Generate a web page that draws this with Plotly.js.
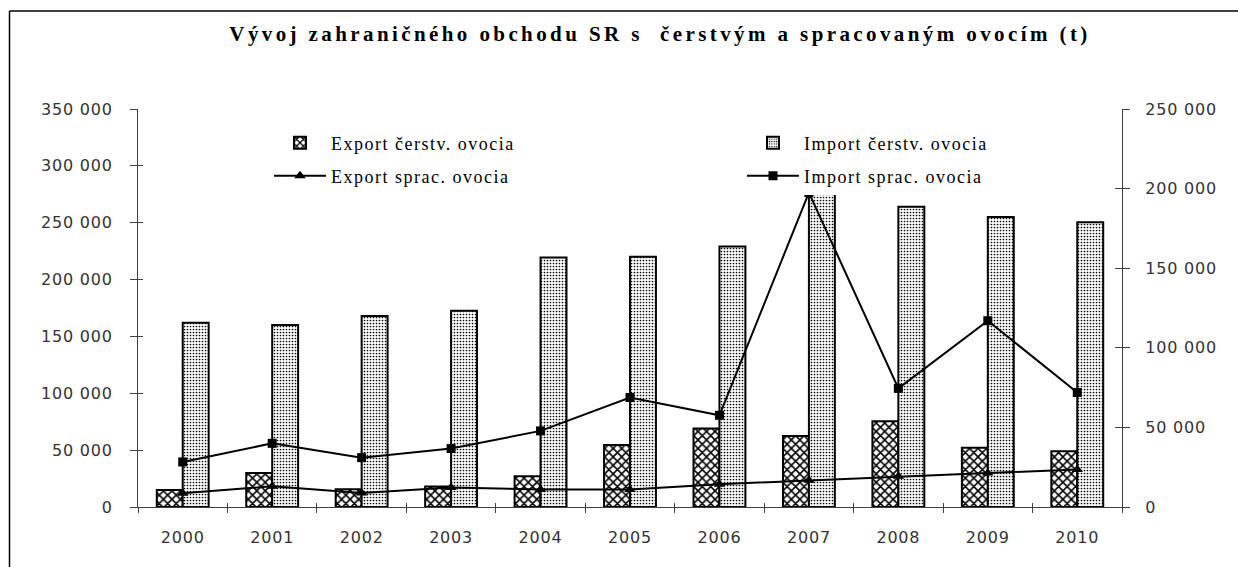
<!DOCTYPE html>
<html><head><meta charset="utf-8">
<script src="https://cdn.plot.ly/plotly-3.0.1.min.js"></script>
<style>
html,body{margin:0;padding:0;background:#fff;}
#chart{width:1238px;height:567px;}
.xtick text,.ytick text,.y2tick text{letter-spacing:0.8px;}
.gtitle{letter-spacing:3.4px;}
</style></head><body><div id="chart"></div>
<script>
const years = ['2000','2001','2002','2003','2004','2005','2006','2007','2008','2009','2010'];
const exportFresh = [15000, 30000, 15500, 18000, 27000, 54500, 69000, 62500, 75500, 52000, 49000];
const importFresh = [162000, 160000, 168000, 172500, 219500, 220000, 229000, 285000, 264000, 255000, 250500];
const exportProc = [8600, 13000, 8800, 12200, 11000, 11000, 14300, 16800, 19300, 21400, 23500];
const importProc = [28300, 40000, 31000, 36700, 47800, 68800, 57600, 197500, 74500, 117000, 71900];
const names = ['Export čerstv. ovocia', 'Import čerstv. ovocia', 'Export sprac. ovocia', 'Import sprac. ovocia'];
const titleText = 'Vývoj zahraničného obchodu SR s  čerstvým a spracovaným ovocím (t)';

const W = 1238, H = 567, L = 138, R = 116, T = 109, B = 60;
const pw = W - L - R, ph = H - T - B;
const px2x = p => (p - L) / pw;
const px2y = p => (H - B - p) / ph;

const axisColor = '#404040';
const tickFont = () => ({family: 'DejaVu Sans', size: 16, color: '#333333'});
const legFont = () => ({family: 'Liberation Serif', size: 18, color: '#000000'});

const traces = [
  {type: 'bar', x: years, y: exportFresh, name: names[0], legend: 'legend',
   marker: {color: '#ffffff', line: {color: '#000', width: 2},
            pattern: {shape: 'x', fgcolor: '#000', bgcolor: '#fff', size: 6, solidity: 0.45}}},
  {type: 'bar', x: years, y: importFresh, name: names[1], legend: 'legend2',
   marker: {color: '#ffffff', line: {color: '#000', width: 2},
            pattern: {shape: '.', fgcolor: '#000', bgcolor: '#fff', size: 3, solidity: 0.25}}},
  {type: 'scatter', mode: 'lines+markers', x: years, y: exportProc, yaxis: 'y2', name: names[2], legend: 'legend3',
   line: {color: '#000', width: 2}, marker: {symbol: 'triangle-up', size: 10, color: '#000'}},
  {type: 'scatter', mode: 'lines+markers', x: years, y: importProc, yaxis: 'y2', name: names[3], legend: 'legend4',
   line: {color: '#000', width: 2}, marker: {symbol: 'square', size: 9, color: '#000'}},
  // empty helper traces so the inward tick axes get drawn
  {type: 'scatter', x: [null], y: [null], xaxis: 'x2', yaxis: 'y3', showlegend: false, hoverinfo: 'skip'},
  {type: 'scatter', x: [null], y: [null], xaxis: 'x2', yaxis: 'y4', showlegend: false, hoverinfo: 'skip'}
];

function leg(xp, yp, bg) {
  return {x: px2x(xp), xanchor: 'left', y: px2y(yp), yanchor: 'middle', orientation: 'h',
          bgcolor: bg, borderwidth: 0, font: legFont(), itemwidth: 52, entrywidth: 250, entrywidthmode: 'pixels',
          itemclick: false};
}

const layout = {
  width: W, height: H,
  font: {family: 'Liberation Serif', size: 18, color: '#000000'},
  margin: {l: L, r: R, t: T, b: B, autoexpand: false},
  paper_bgcolor: '#fff', plot_bgcolor: 'rgba(0,0,0,0)',
  separators: ', ',
  barmode: 'group', bargap: 0.42, bargroupgap: 0,
  title: {text: '<b>' + titleText + '</b>', x: px2x(660), xref: 'paper', xanchor: 'center',
          y: 1 - 34 / H, yref: 'container', yanchor: 'middle',
          font: {family: 'Liberation Serif', size: 21, color: '#000'}},
  xaxis: {type: 'category', range: [-0.5, 10.5], tickson: 'boundaries', ticks: 'outside', ticklen: 5, tickcolor: axisColor,
          showline: true, linecolor: axisColor, linewidth: 1, showgrid: false, zeroline: false,
          tickfont: tickFont(), ticklabelstandoff: 16},
  xaxis2: {overlaying: 'x', anchor: 'y', type: 'linear', range: [-0.5, 10.5], tickmode: 'linear', tick0: -0.5, dtick: 1,
           ticks: 'inside', ticklen: 4, tickcolor: axisColor, showticklabels: false, showline: false,
           showgrid: false, zeroline: false},
  yaxis: {range: [0, 350000], dtick: 50000, tickformat: ',d', ticks: 'outside', ticklen: 7, tickcolor: axisColor,
          showline: true, linecolor: axisColor, linewidth: 1, showgrid: false, zeroline: false,
          tickfont: tickFont(), ticklabelstandoff: 14},
  yaxis2: {overlaying: 'y', side: 'right', range: [0, 250000], dtick: 50000, tickformat: ',d', ticks: 'outside', ticklen: 7,
           tickcolor: axisColor, showline: true, linecolor: axisColor, linewidth: 1, showgrid: false,
           zeroline: false, tickfont: tickFont(), ticklabelstandoff: 12},
  yaxis3: {overlaying: 'y', side: 'left', anchor: 'x2', range: [0, 350000], dtick: 50000, ticks: 'inside', ticklen: 5,
           tickcolor: axisColor, showticklabels: false, showline: false, showgrid: false, zeroline: false},
  yaxis4: {overlaying: 'y', side: 'right', anchor: 'x2', range: [0, 250000], dtick: 50000, ticks: 'inside', ticklen: 7,
           tickcolor: axisColor, showticklabels: false, showline: false, showgrid: false, zeroline: false},
  legend: leg(269, 143, 'rgba(0,0,0,0)'),
  legend2: leg(742, 143, '#ffffff'),
  legend3: leg(269, 176, 'rgba(0,0,0,0)'),
  legend4: leg(742, 176, '#ffffff'),
  shapes: [
    {type: 'line', xref: 'paper', yref: 'paper', x0: px2x(9.5), x1: px2x(9.5), y0: px2y(H + 5), y1: px2y(11), line: {color: '#000', width: 1.5}},
    {type: 'line', xref: 'paper', yref: 'paper', x0: px2x(9.5), x1: px2x(W + 5), y0: px2y(11), y1: px2y(11), line: {color: '#000', width: 1.5}}
  ],
  showlegend: true
};

Plotly.newPlot('chart', traces, layout, {displayModeBar: false, staticPlot: true}).then(function (gd) {
  gd.querySelectorAll('.infolayer text').forEach(function (t) {
    if (!t.closest('.g-gtitle')) t.style.letterSpacing = '1.5px';
  });
});
</script></body></html>
